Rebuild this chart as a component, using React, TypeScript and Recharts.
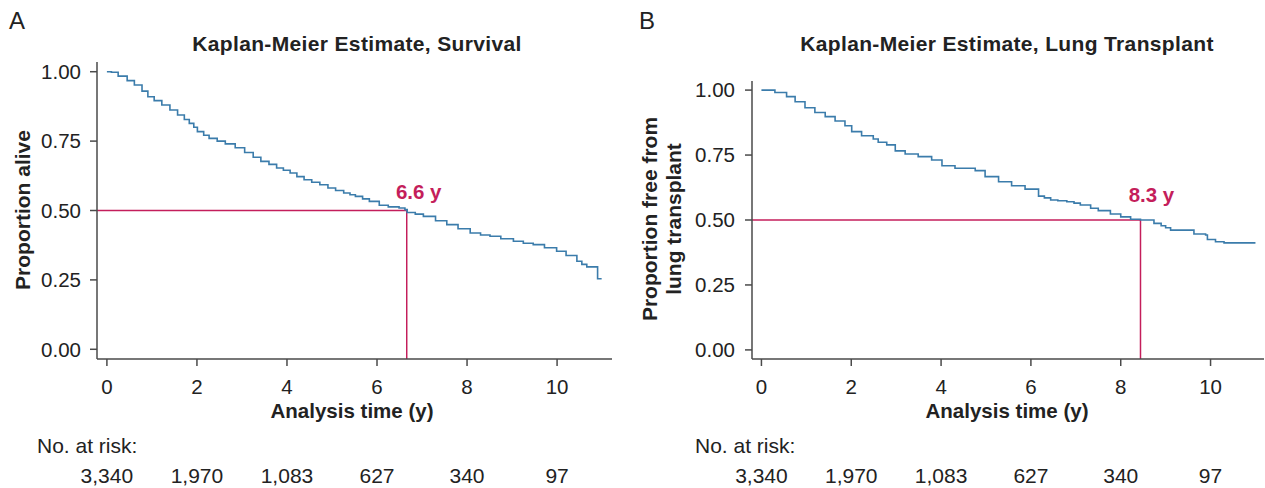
import React from 'react';
import { LineChart, Line, XAxis, YAxis, ReferenceLine, ReferenceDot } from 'recharts';

// Panel A – survival
const timeA = [0, 0.1, 0.25, 0.45, 0.61, 0.78, 0.91, 1.05, 1.22, 1.4, 1.57, 1.72, 1.83, 1.93, 2.01, 2.15, 2.27, 2.45, 2.63, 2.85, 3.06, 3.25, 3.42, 3.6, 3.77, 3.92, 4.07, 4.22, 4.38, 4.55, 4.73, 4.91, 5.08, 5.26, 5.4, 5.52, 5.68, 5.83, 6.05, 6.25, 6.49, 6.62, 6.67, 6.85, 7.03, 7.3, 7.55, 7.8, 8.07, 8.3, 8.51, 8.75, 9.03, 9.25, 9.47, 9.72, 9.99, 10.2, 10.44, 10.55, 10.66, 10.9, 10.99];
const survA = [1.0, 0.998, 0.984, 0.968, 0.952, 0.93, 0.91, 0.896, 0.88, 0.862, 0.844, 0.828, 0.814, 0.8, 0.784, 0.771, 0.76, 0.75, 0.74, 0.726, 0.709, 0.692, 0.677, 0.666, 0.653, 0.645, 0.635, 0.622, 0.611, 0.602, 0.593, 0.581, 0.572, 0.563, 0.557, 0.551, 0.542, 0.533, 0.519, 0.513, 0.509, 0.503, 0.493, 0.487, 0.479, 0.463, 0.449, 0.434, 0.419, 0.412, 0.407, 0.398, 0.389, 0.382, 0.377, 0.366, 0.353, 0.338, 0.317, 0.306, 0.297, 0.254, 0.254];

// Panel B – free from lung transplant
const timeB = [0, 0.3, 0.56, 0.75, 0.97, 1.19, 1.42, 1.64, 1.86, 2.01, 2.23, 2.49, 2.6, 2.79, 2.98, 3.2, 3.49, 3.79, 4.02, 4.31, 4.76, 4.98, 5.28, 5.57, 5.87, 6.17, 6.3, 6.44, 6.6, 6.8, 6.96, 7.1, 7.33, 7.5, 7.77, 8.0, 8.22, 8.44, 8.74, 8.9, 9.0, 9.11, 9.63, 9.89, 9.93, 10.11, 10.3, 11.0];
const survB = [1.0, 0.991, 0.975, 0.955, 0.932, 0.914, 0.898, 0.881, 0.863, 0.84, 0.824, 0.812, 0.799, 0.789, 0.766, 0.754, 0.744, 0.731, 0.709, 0.699, 0.69, 0.667, 0.647, 0.632, 0.619, 0.592, 0.585, 0.577, 0.574, 0.57, 0.565, 0.558, 0.545, 0.536, 0.523, 0.512, 0.503, 0.5, 0.487, 0.478, 0.47, 0.461, 0.446, 0.442, 0.425, 0.416, 0.412, 0.412];

const xTicks = [0, 2, 4, 6, 8, 10];
const yTicks = [0, 0.25, 0.5, 0.75, 1];
const atRiskA = ['3,340', '1,970', '1,083', '627', '340', '97'];
const atRiskB = ['3,340', '1,970', '1,083', '627', '340', '97'];
const medianA = 6.66;
const medianLabelA = '6.6 y';
const medianB = 8.44;
const medianLabelB = '8.3 y';

const FONT = '"Liberation Sans", Arial, Helvetica, sans-serif';
const BLUE = '#3b7cab';
const RED = '#c41e5b';
const AXIS = '#4a4a4a';
const TEXT = '#222';

type PanelProps = {
  left: number;
  width: number;
  top: number;
  yAxisLeft: number;
  right: number;
  times: number[];
  surv: number[];
  xDomain: [number, number];
  atRisk: string[];
  median: number;
  medianLabel: string;
  labelDx: number;
  labelOffset: number;
  yTickMargin: number;
};

const Y_DOMAIN: [number, number] = [-0.035, 1.035];
const Y_AXIS_W = 80;

function Panel(p: PanelProps) {
  const rows = p.times.map((t, i) => ({ t, s: p.surv[i] }));
  return (
    <div style={{ position: 'absolute', left: p.left, top: 0 }}>
      <LineChart
        width={p.width}
        height={488}
        data={rows}
        margin={{ top: p.top, right: p.right, bottom: 0, left: p.yAxisLeft - Y_AXIS_W }}
      >
        <XAxis
          xAxisId="main"
          type="number"
          dataKey="t"
          domain={p.xDomain}
          ticks={xTicks}
          interval={0}
          allowDataOverflow
          height={60}
          tickSize={7}
          tickMargin={13}
          stroke={AXIS}
          strokeWidth={1.5}
          tick={{ fontSize: 20.5, fill: TEXT, fontFamily: FONT }}
        />
        <XAxis
          xAxisId="risk"
          type="number"
          dataKey="t"
          domain={p.xDomain}
          ticks={xTicks}
          interval={0}
          allowDataOverflow
          height={69}
          axisLine={false}
          tickLine={false}
          tickSize={0}
          tickMargin={49}
          tickFormatter={(v: number) => p.atRisk[xTicks.indexOf(v)] ?? ''}
          tick={{ fontSize: 21, fill: TEXT, fontFamily: FONT }}
        />
        <YAxis
          type="number"
          domain={Y_DOMAIN}
          ticks={yTicks}
          interval={0}
          allowDataOverflow
          width={Y_AXIS_W}
          tickSize={7}
          tickMargin={p.yTickMargin}
          tickFormatter={(v: number) => v.toFixed(2)}
          stroke={AXIS}
          strokeWidth={1.5}
          tick={{ fontSize: 20.5, fill: TEXT, fontFamily: FONT }}
        />
        <ReferenceLine
          xAxisId="main"
          segment={[{ x: p.xDomain[0], y: 0.5 }, { x: p.median, y: 0.5 }]}
          stroke={RED}
          strokeWidth={1.5}
        />
        <ReferenceLine
          xAxisId="main"
          segment={[{ x: p.median, y: 0.5 }, { x: p.median, y: Y_DOMAIN[0] }]}
          stroke={RED}
          strokeWidth={1.5}
        />
        <Line
          xAxisId="main"
          type="stepAfter"
          dataKey="s"
          stroke={BLUE}
          strokeWidth={1.6}
          dot={false}
          isAnimationActive={false}
        />
        <ReferenceDot
          xAxisId="main"
          x={p.median}
          y={0.5}
          r={0}
          fill="none"
          stroke="none"
          label={{
            value: p.medianLabel,
            position: 'top',
            offset: p.labelOffset,
            dx: p.labelDx,
            fill: RED,
            fontSize: 20.5,
            fontWeight: 'bold',
            fontFamily: FONT,
          }}
        />
      </LineChart>
    </div>
  );
}

const txt: React.CSSProperties = {
  position: 'absolute',
  fontFamily: FONT,
  color: TEXT,
  whiteSpace: 'nowrap',
  lineHeight: 1,
};

function Centered({ x, y, size, bold, rotate, spacing, children }: { x: number; y: number; size: number; bold?: boolean; rotate?: boolean; spacing?: number; children: React.ReactNode }) {
  return (
    <div
      style={{
        ...txt,
        left: x,
        top: y,
        fontSize: size,
        letterSpacing: spacing ?? 0,
        fontWeight: bold ? 'bold' : 'normal',
        transform: `translate(-50%, -50%)${rotate ? ' rotate(-90deg)' : ''}`,
        textAlign: 'center',
      }}
    >
      {children}
    </div>
  );
}

export default function App() {
  return (
    <div style={{ position: 'absolute', left: 0, top: 0, width: 1265, height: 488, background: '#fff', overflow: 'hidden' }}>
      <Panel
        left={0}
        width={630}
        top={62}
        yAxisLeft={97}
        right={18}
        times={timeA}
        surv={survA}
        xDomain={[-0.22, 11.22]}
        atRisk={atRiskA}
        median={medianA}
        medianLabel={medianLabelA}
        labelDx={12}
        labelOffset={12}
        yTickMargin={9}
      />
      <Panel
        left={630}
        width={635}
        top={81}
        yAxisLeft={122}
        right={1}
        times={timeB}
        surv={survB}
        xDomain={[-0.21, 11.19]}
        atRisk={atRiskB}
        median={medianB}
        medianLabel={medianLabelB}
        labelDx={11}
        labelOffset={18}
        yTickMargin={10}
      />

      <Centered x={17} y={21} size={24}>A</Centered>
      <Centered x={647} y={21} size={24}>B</Centered>

      <Centered x={357} y={43} size={21} spacing={0.35} bold>Kaplan-Meier Estimate, Survival</Centered>
      <Centered x={1007} y={43} size={21} spacing={0.35} bold>Kaplan-Meier Estimate, Lung Transplant</Centered>

      <Centered x={22} y={210} size={21} bold rotate>Proportion alive</Centered>
      <Centered x={662} y={219} size={21} bold rotate>
        <div style={{ lineHeight: '24px' }}>Proportion free from<br />lung transplant</div>
      </Centered>

      <Centered x={352} y={411} size={20.5} bold>Analysis time (y)</Centered>
      <Centered x={1007} y={411} size={20.5} bold>Analysis time (y)</Centered>

      <div style={{ ...txt, left: 37, top: 435, fontSize: 21 }}>No. at risk:</div>
      <div style={{ ...txt, left: 695, top: 435, fontSize: 21 }}>No. at risk:</div>
    </div>
  );
}
